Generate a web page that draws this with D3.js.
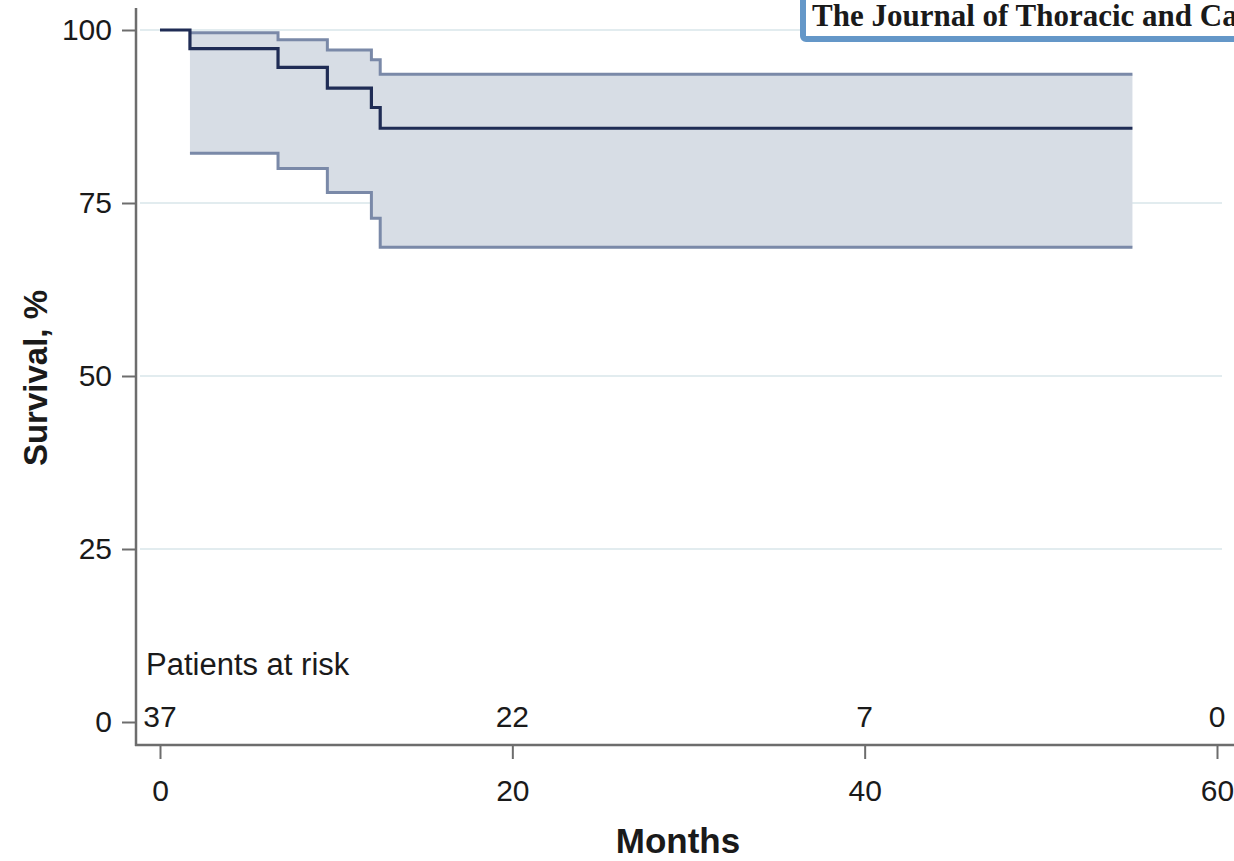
<!DOCTYPE html>
<html>
<head>
<meta charset="utf-8">
<script src="https://cdn.jsdelivr.net/npm/d3@7"></script>
<style>
  body { margin: 0; background: #fff; }
  svg { display: block; }
  text { font-family: Arial, "Liberation Sans", sans-serif; fill: #1a1a1a; }
</style>
</head>
<body>
<div id="chart"></div>
<script>
// Kaplan-Meier estimate, steps
var kmTimes = [0, 1.7, 6.7, 9.5, 12.0, 12.5];
var kmSurv = [100, 97.3, 94.6, 91.6, 88.8, 85.8];
var ciTimes = [1.7, 6.7, 9.5, 12.0, 12.5];
var ciUpper = [99.6, 98.6, 97.1, 95.7, 93.6];
var ciLower = [82.2, 80.0, 76.5, 72.8, 68.6];
var lastFollowUp = 55.2;

var xTicks = [0, 20, 40, 60];
var yTicks = [0, 25, 50, 75, 100];
var gridTicks = [25, 50, 75, 100];
var riskTimes = [0, 20, 40, 60];
var riskCounts = [37, 22, 7, 0];

var width = 1234, height = 861;

var svg = d3.select("#chart").append("svg")
    .attr("width", width)
    .attr("height", height);

var x = d3.scaleLinear().domain([0, 60]).range([160, 1217]);
var y = d3.scaleLinear().domain([0, 100]).range([722, 30]);

// gridlines
svg.append("g")
    .selectAll("line")
    .data(gridTicks)
    .enter().append("line")
    .attr("x1", 140).attr("x2", 1222)
    .attr("y1", function (d) { return y(d); })
    .attr("y2", function (d) { return y(d); })
    .attr("stroke", "#e2ecef")
    .attr("stroke-width", 2);

// build step points, extended to last follow-up
function steps(ts, vs) {
    var pts = ts.map(function (t, i) { return [t, vs[i]]; });
    pts.push([lastFollowUp, vs[vs.length - 1]]);
    return pts;
}

var band = ciTimes.map(function (t, i) { return { t: t, lo: ciLower[i], hi: ciUpper[i] }; });
band.push({ t: lastFollowUp, lo: ciLower[ciLower.length - 1], hi: ciUpper[ciUpper.length - 1] });

svg.append("path")
    .datum(band)
    .attr("fill", "#d7dde5")
    .attr("d", d3.area()
        .curve(d3.curveStepAfter)
        .x(function (d) { return x(d.t); })
        .y0(function (d) { return y(d.lo); })
        .y1(function (d) { return y(d.hi); }));

var stepLine = d3.line()
    .curve(d3.curveStepAfter)
    .x(function (d) { return x(d[0]); })
    .y(function (d) { return y(d[1]); });

[ciUpper, ciLower].forEach(function (vals) {
    svg.append("path")
        .datum(steps(ciTimes, vals))
        .attr("fill", "none")
        .attr("stroke", "#7a89a8")
        .attr("stroke-width", 3)
        .attr("d", stepLine);
});

svg.append("path")
    .datum(steps(kmTimes, kmSurv))
    .attr("fill", "none")
    .attr("stroke", "#1f2c55")
    .attr("stroke-width", 3.2)
    .attr("d", stepLine);

// axes
var yAxis = svg.append("g")
    .attr("transform", "translate(136,0)")
    .call(d3.axisLeft(y).tickValues(yTicks).tickSize(14).tickPadding(10));

var xAxis = svg.append("g")
    .attr("transform", "translate(0,745)")
    .call(d3.axisBottom(x).tickValues(xTicks).tickSize(14).tickPadding(22));

[yAxis, xAxis].forEach(function (g) {
    g.select(".domain").remove();
    g.selectAll("line").attr("stroke", "#6d6d6d").attr("stroke-width", 2);
    g.selectAll("text").style("font-size", "30px").attr("fill", "#1a1a1a")
        .style("font-family", "Arial, 'Liberation Sans', sans-serif");
});
xAxis.selectAll("text").attr("dy", "0.68em");

// axis lines
svg.append("line")
    .attr("x1", 136).attr("x2", 136).attr("y1", 8).attr("y2", 746)
    .attr("stroke", "#6d6d6d").attr("stroke-width", 2.5);
svg.append("line")
    .attr("x1", 135).attr("x2", width).attr("y1", 745).attr("y2", 745)
    .attr("stroke", "#6d6d6d").attr("stroke-width", 2.5);

// patients at risk
svg.append("text")
    .attr("x", 146).attr("y", 675)
    .style("font-size", "31px")
    .text("Patients at risk");

svg.append("g")
    .selectAll("text")
    .data(riskCounts)
    .enter().append("text")
    .attr("x", function (d, i) { return x(riskTimes[i]); })
    .attr("y", 727)
    .attr("text-anchor", "middle")
    .style("font-size", "30px")
    .text(function (d) { return d; });

// axis titles
svg.append("text")
    .attr("transform", "translate(47,378) rotate(-90)")
    .attr("text-anchor", "middle")
    .style("font-size", "33px")
    .style("font-weight", "bold")
    .text("Survival, %");

svg.append("text")
    .attr("x", 678).attr("y", 853)
    .attr("text-anchor", "middle")
    .style("font-size", "35px")
    .style("font-weight", "bold")
    .text("Months");

// journal label box (cut off at the right edge)
svg.append("rect")
    .attr("x", 803).attr("y", -10)
    .attr("width", 500).attr("height", 49)
    .attr("rx", 3)
    .attr("fill", "#fff")
    .attr("stroke", "#6497c8")
    .attr("stroke-width", 6);

svg.append("text")
    .attr("x", 812).attr("y", 26)
    .style("font-family", "'Liberation Serif', 'Times New Roman', serif")
    .style("font-size", "31px")
    .style("font-weight", "bold")
    .attr("fill", "#111")
    .text("The Journal of Thoracic and Cardiovascular Surgery");
</script>
</body>
</html>
